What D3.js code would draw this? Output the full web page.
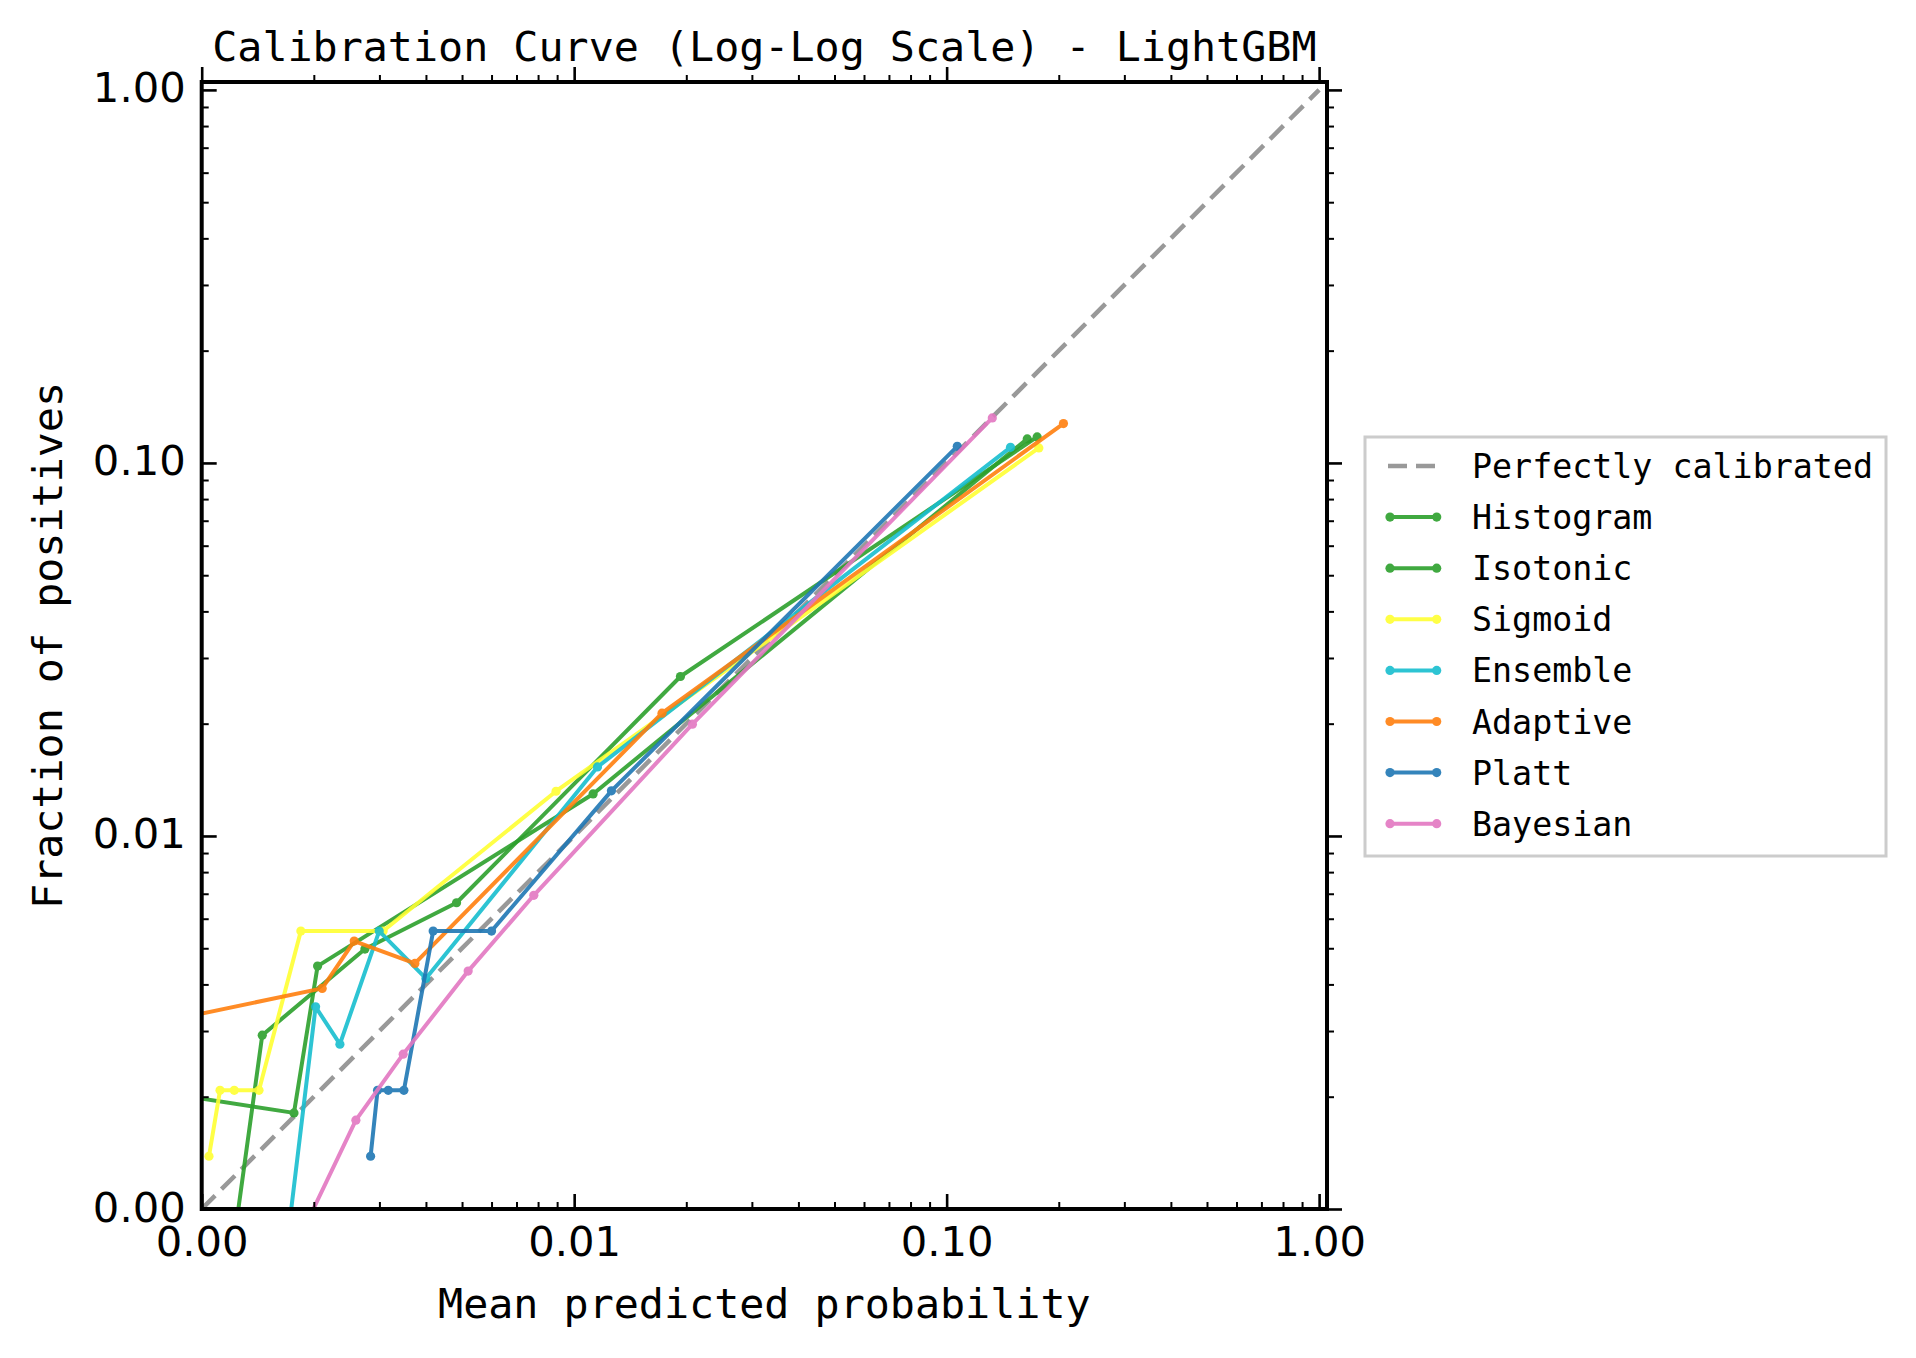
<!DOCTYPE html>
<html><head><meta charset="utf-8">
<script src="https://cdn.jsdelivr.net/npm/d3@7"></script>
<style>body{margin:0;background:#fff}</style>
</head><body><svg id="c" width="1916" height="1358"></svg>
<script>
// ---------- data ----------
const majorTicks = [0.001, 0.01, 0.1, 1];
const minorTicks = [2,3,4,5,6,7,8,9].flatMap(m => [0.001, 0.01, 0.1].map(d => m * d));
const seriesNames  = ["Histogram", "Isotonic", "Sigmoid", "Ensemble", "Adaptive", "Platt", "Bayesian"];
const seriesColors = ["#2ca02c", "#2ca02c", "#ffff33", "#17becf", "#ff7f0e", "#1f77b4", "#e377c2"];

const histogramX = [0.00114, 0.001454, 0.002743, 0.004833, 0.01929, 0.1750];
const histogramY = [0.0005, 0.002924, 0.004975, 0.006622, 0.02676, 0.1174];
const isotonicX  = [0.0005, 0.001769, 0.002047, 0.01124, 0.1646];
const isotonicY  = [0.0022, 0.00181, 0.004479, 0.01296, 0.1160];
const sigmoidX   = [0.001046, 0.00112, 0.001223, 0.001425, 0.001846, 0.00307, 0.00894, 0.1768];
const sigmoidY   = [0.001385, 0.00208, 0.00208, 0.00208, 0.005561, 0.005561, 0.01318, 0.1097];
const ensembleX  = [0.0016, 0.002022, 0.00235, 0.002996, 0.003998, 0.01155, 0.1484];
const ensembleY  = [0.0005, 0.003483, 0.002766, 0.005561, 0.004151, 0.01531, 0.1101];
const adaptiveX  = [0.0005, 0.002106, 0.002567, 0.003736, 0.01721, 0.2059];
const adaptiveY  = [0.00289, 0.003903, 0.005227, 0.004554, 0.02134, 0.1275];
const plattX     = [0.002841, 0.002966, 0.003168, 0.00349, 0.004182, 0.006, 0.01259, 0.1068];
const plattY     = [0.001385, 0.00208, 0.00208, 0.00208, 0.005561, 0.005561, 0.01321, 0.1108];
const bayesianX  = [0.00143, 0.002594, 0.003475, 0.005192, 0.007792, 0.02077, 0.1326];
const bayesianY  = [0.0005, 0.00173, 0.002601, 0.004343, 0.006933, 0.01994, 0.1320];
const diagonal   = [0.001, 1];

const seriesX = [histogramX, isotonicX, sigmoidX, ensembleX, adaptiveX, plattX, bayesianX];
const seriesY = [histogramY, isotonicY, sigmoidY, ensembleY, adaptiveY, plattY, bayesianY];

// ---------- layout ----------
const L = 201.7, R = 1327, T = 82, B = 1209;
const MONO = "'DejaVu Sans Mono', monospace";
const SANS = "'DejaVu Sans', sans-serif";

const svg = d3.select("#c");
svg.append("rect").attr("width", 1916).attr("height", 1358).attr("fill", "#fff");

const x = d3.scaleLog().domain([0.001, 1.05]).range([L, R]);
const y = d3.scaleLog().domain([0.001, 1.05]).range([B, T]);
const fmt = d3.format(".2f");

svg.append("clipPath").attr("id", "clip")
  .append("rect").attr("x", L).attr("y", T).attr("width", R - L).attr("height", B - T);

const plot = svg.append("g").attr("clip-path", "url(#clip)");

// diagonal
plot.append("path")
  .attr("d", d3.line().x(d => x(d)).y(d => y(d))(diagonal))
  .attr("fill", "none").attr("stroke", "#999").attr("stroke-width", 4.5)
  .attr("stroke-dasharray", "19,9");

const line = d3.line().x(d => x(d[0])).y(d => y(d[1]));
seriesNames.forEach((name, i) => {
  const pts = seriesX[i].map((v, j) => [v, seriesY[i][j]]);
  const g = plot.append("g").attr("opacity", 0.9);
  g.append("path").attr("d", line(pts)).attr("fill", "none")
    .attr("stroke", seriesColors[i]).attr("stroke-width", 4)
    .attr("stroke-linejoin", "round");
  g.selectAll("circle").data(pts).join("circle")
    .attr("cx", d => x(d[0])).attr("cy", d => y(d[1])).attr("r", 4.6)
    .attr("fill", seriesColors[i]);
});

// ---------- axes (ticks inward on all sides) ----------
function styleAxis(g, w) {
  g.select(".domain").remove();
  g.selectAll(".tick line").attr("stroke", "#000").attr("stroke-width", w);
}
function addAxis(axisFn, scale, pos, vals, size, w, labels) {
  const a = axisFn(scale).tickValues(vals).tickSize(-size).tickFormat(labels ? fmt : "");
  const g = svg.append("g").attr("transform", pos).call(a);
  styleAxis(g, w);
  return g;
}
// bottom
const gb = addAxis(d3.axisBottom, x, `translate(0,${B})`, majorTicks, 15, 2.6, true);
gb.selectAll("text").attr("y", 47).attr("dy", 0)
  .attr("font-family", SANS).attr("font-size", 41.7).attr("fill", "#000");
addAxis(d3.axisBottom, x, `translate(0,${B})`, minorTicks, 7, 2, false);
// top
addAxis(d3.axisTop, x, `translate(0,${T})`, majorTicks, -15, 2.6, false);
addAxis(d3.axisTop, x, `translate(0,${T})`, minorTicks, -7, 2, false);
// left
const gl = addAxis(d3.axisLeft, y, `translate(${L},0)`, majorTicks, 15, 2.6, true);
gl.selectAll("text").attr("x", -16).attr("dy", 12)
  .attr("font-family", SANS).attr("font-size", 41.7).attr("fill", "#000");
addAxis(d3.axisLeft, y, `translate(${L},0)`, minorTicks, 7, 2, false);
// right
addAxis(d3.axisRight, y, `translate(${R},0)`, majorTicks, -15, 2.6, false);
addAxis(d3.axisRight, y, `translate(${R},0)`, minorTicks, -7, 2, false);

// spines
svg.append("rect").attr("x", L).attr("y", T).attr("width", R - L).attr("height", B - T)
  .attr("fill", "none").attr("stroke", "#000").attr("stroke-width", 4);

// ---------- text ----------
const cx = (L + R) / 2, cy = (T + B) / 2;
svg.append("text").attr("x", cx).attr("y", 61).attr("text-anchor", "middle")
  .attr("font-family", MONO).attr("font-size", 41.7).text("Calibration Curve (Log-Log Scale) - LightGBM");
svg.append("text").attr("x", cx).attr("y", 1318).attr("text-anchor", "middle")
  .attr("font-family", MONO).attr("font-size", 41.7).text("Mean predicted probability");
svg.append("text").attr("transform", `translate(62,${cy}) rotate(-90)`).attr("text-anchor", "middle")
  .attr("font-family", MONO).attr("font-size", 41.7).text("Fraction of positives");

// ---------- legend ----------
const legend = svg.append("g");
legend.append("rect").attr("x", 1365).attr("y", 437).attr("width", 521).attr("height", 419)
  .attr("fill", "#fff").attr("stroke", "#ccc").attr("stroke-width", 3);
const legendLabels = ["Perfectly calibrated"].concat(seriesNames);
const hx1 = 1390, hx2 = 1436.7;
legendLabels.forEach((lab, i) => {
  const yy = 466 + i * 51.1;
  if (i === 0) {
    legend.append("line").attr("x1", hx1 - 2).attr("x2", hx2).attr("y1", yy).attr("y2", yy)
      .attr("stroke", "#999").attr("stroke-width", 4.5).attr("stroke-dasharray", "19,9");
  } else {
    const c = seriesColors[i - 1];
    const g = legend.append("g").attr("opacity", 0.9);
    g.append("line").attr("x1", hx1).attr("x2", hx2).attr("y1", yy).attr("y2", yy)
      .attr("stroke", c).attr("stroke-width", 4);
    [hx1, hx2].forEach(px => g.append("circle").attr("cx", px).attr("cy", yy).attr("r", 4.6).attr("fill", c));
  }
  legend.append("text").attr("x", 1472).attr("y", yy + 12)
    .attr("font-family", MONO).attr("font-size", 33.3).text(lab);
});
</script></body></html>
